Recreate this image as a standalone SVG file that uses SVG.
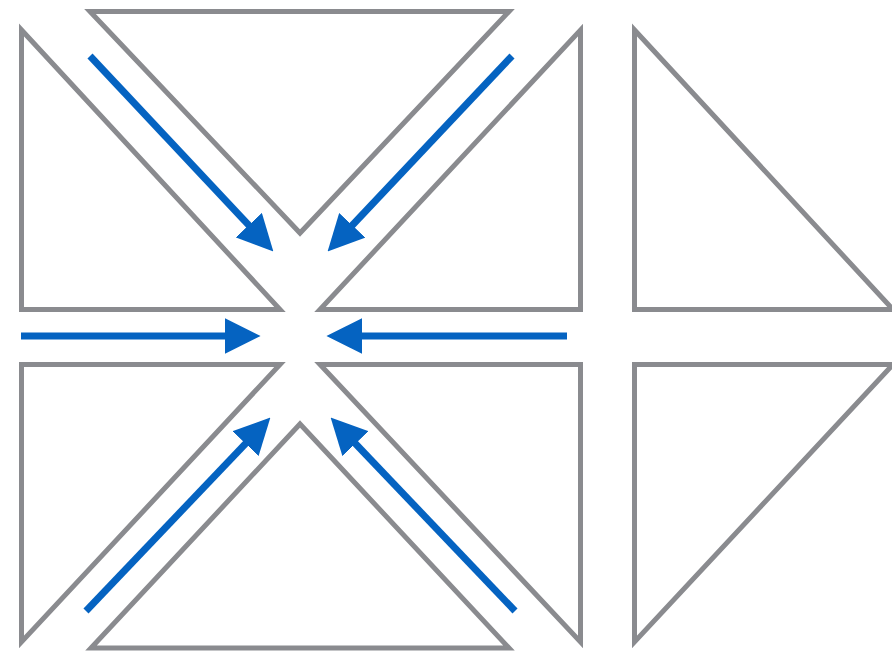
<svg xmlns="http://www.w3.org/2000/svg" width="892" height="652" viewBox="0 0 892 652">
<defs>
<style>
.tri{fill:#ffffff;stroke:#8a8b8f;stroke-width:5;stroke-linejoin:miter;stroke-miterlimit:20}
.arr{fill:none;stroke:#0563c1;stroke-width:7;marker-end:url(#head)}
</style>
<marker id="head" markerUnits="userSpaceOnUse" markerWidth="36" markerHeight="36" viewBox="0 0 35 35" refX="15" refY="17.5" orient="auto">
<path d="M0,0 L35,17.5 L0,35 Z" fill="#0563c1"/>
</marker>
</defs>
<rect width="892" height="652" fill="#ffffff"/>
<g id="tri-top-left"><polygon class="tri" points="21.5,30 21.5,309.5 280,309.5"/></g>
<g id="tri-top"><polygon class="tri" points="90,11.5 509,11.5 300,233"/></g>
<g id="tri-top-right"><polygon class="tri" points="580.5,30 580.5,309.5 320,309.5"/></g>
<g id="tri-far-top"><polygon class="tri" points="634.5,30 634.5,309.5 893,309.5"/></g>
<g id="tri-bottom-left"><polygon class="tri" points="21.5,364.5 280,364.5 21.5,642"/></g>
<g id="tri-bottom"><polygon class="tri" points="300,424 509,648 91,648"/></g>
<g id="tri-bottom-right"><polygon class="tri" points="320,364.5 580.5,364.5 580.5,642"/></g>
<g id="tri-far-bottom"><polygon class="tri" points="634.5,364.5 893,364.5 634.5,642"/></g>
<g id="connectors">
<line class="arr" x1="90" y1="56" x2="259.3" y2="236.4"/>
<line class="arr" x1="512" y1="56" x2="341.7" y2="236.5"/>
<line class="arr" x1="21" y1="336" x2="240" y2="336"/>
<line class="arr" x1="567" y1="336" x2="347" y2="336"/>
<line class="arr" x1="86" y1="611" x2="256.2" y2="432.5"/>
<line class="arr" x1="515" y1="611" x2="344.8" y2="432.5"/>
</g>
</svg>
